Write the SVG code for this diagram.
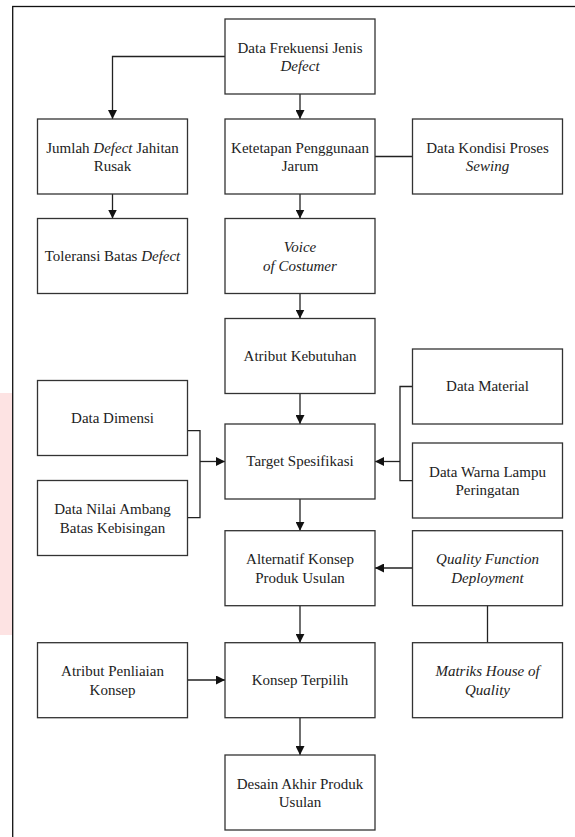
<svg xmlns="http://www.w3.org/2000/svg" width="575" height="837" viewBox="0 0 575 837">
<style>
.box{fill:#fff;stroke:#333;stroke-width:1.3}
.t{font-family:'Liberation Serif','DejaVu Serif',serif;font-size:15px;fill:#222;text-anchor:middle}
.i{font-style:italic}
.c{fill:none;stroke:#222;stroke-width:1.3}
</style>
<defs>
<marker id="a" markerUnits="userSpaceOnUse" markerWidth="9" markerHeight="9" refX="9" refY="4.5" orient="auto">
<path d="M0,0 L9,4.5 L0,9 z" fill="#111"/>
</marker>
</defs>
<rect x="0" y="393" width="12" height="242" fill="#fde3e3"/>
<rect x="12.7" y="6.5" width="620" height="900" fill="none" stroke="#111" stroke-width="1.3"/>

<g id="connectors">
<path class="c" d="M225,56.5 H112.5 V119" marker-end="url(#a)"/>
<path class="c" d="M300,94 V119" marker-end="url(#a)"/>
<path class="c" d="M375,156.5 H412.5"/>
<path class="c" d="M112.5,194 V218.5" marker-end="url(#a)"/>
<path class="c" d="M300,194 V218.5" marker-end="url(#a)"/>
<path class="c" d="M300,293.5 V318.5" marker-end="url(#a)"/>
<path class="c" d="M300,393 V424" marker-end="url(#a)"/>
<path class="c" d="M187.5,430.7 H200 V517.7 H187.5"/>
<path class="c" d="M200,461.5 H225" marker-end="url(#a)"/>
<path class="c" d="M412.5,386.5 H400 V480.7 H412.5"/>
<path class="c" d="M400,461.5 H375" marker-end="url(#a)"/>
<path class="c" d="M300,499 V530.7" marker-end="url(#a)"/>
<path class="c" d="M412.5,568 H375" marker-end="url(#a)"/>
<path class="c" d="M487.5,605.7 V642.7"/>
<path class="c" d="M300,605.7 V642.7" marker-end="url(#a)"/>
<path class="c" d="M187.5,680 H225" marker-end="url(#a)"/>
<path class="c" d="M300,717.7 V755" marker-end="url(#a)"/>
</g>

<g id="n-frekuensi"><rect class="box" x="225" y="19" width="150" height="75"/>
<text class="t" x="300" y="52.5">Data Frekuensi Jenis</text><text class="t i" x="300" y="71">Defect</text></g>

<g id="n-jumlah"><rect class="box" x="37.5" y="119" width="150" height="75"/>
<text class="t" x="112.5" y="152.5">Jumlah <tspan class="i">Defect</tspan> Jahitan</text><text class="t" x="112.5" y="171">Rusak</text></g>

<g id="n-ketetapan"><rect class="box" x="225" y="119" width="150" height="75"/>
<text class="t" x="300" y="152.5">Ketetapan Penggunaan</text><text class="t" x="300" y="171">Jarum</text></g>

<g id="n-kondisi"><rect class="box" x="412.5" y="119" width="150" height="75"/>
<text class="t" x="487.5" y="152.5">Data Kondisi Proses</text><text class="t i" x="487.5" y="171">Sewing</text></g>

<g id="n-toleransi"><rect class="box" x="37.5" y="218.5" width="150" height="75"/>
<text class="t" x="112.5" y="261">Toleransi Batas <tspan class="i">Defect</tspan></text></g>

<g id="n-voice"><rect class="box" x="225" y="218.5" width="150" height="75"/>
<text class="t i" x="300" y="251.5">Voice</text><text class="t i" x="300" y="270.5">of Costumer</text></g>

<g id="n-atribut-kebutuhan"><rect class="box" x="225" y="318.5" width="150" height="75"/>
<text class="t" x="300" y="361">Atribut Kebutuhan</text></g>

<g id="n-material"><rect class="box" x="412.5" y="349" width="150" height="75"/>
<text class="t" x="487.5" y="391">Data Material</text></g>

<g id="n-dimensi"><rect class="box" x="37.5" y="380.5" width="150" height="75"/>
<text class="t" x="112.5" y="422.5">Data Dimensi</text></g>

<g id="n-target"><rect class="box" x="225" y="424" width="150" height="75"/>
<text class="t" x="300" y="466">Target Spesifikasi</text></g>

<g id="n-warna"><rect class="box" x="412.5" y="443" width="150" height="75"/>
<text class="t" x="487.5" y="476.5">Data Warna Lampu</text><text class="t" x="487.5" y="495">Peringatan</text></g>

<g id="n-nilai"><rect class="box" x="37.5" y="480.5" width="150" height="75"/>
<text class="t" x="112.5" y="514">Data Nilai Ambang</text><text class="t" x="112.5" y="532.5">Batas Kebisingan</text></g>

<g id="n-alternatif"><rect class="box" x="225" y="530.7" width="150" height="75"/>
<text class="t" x="300" y="564">Alternatif Konsep</text><text class="t" x="300" y="582.5">Produk Usulan</text></g>

<g id="n-qfd"><rect class="box" x="412.5" y="530.7" width="150" height="75"/>
<text class="t i" x="487.5" y="564">Quality Function</text><text class="t i" x="487.5" y="582.5">Deployment</text></g>

<g id="n-penilaian"><rect class="box" x="37.5" y="642.7" width="150" height="75"/>
<text class="t" x="112.5" y="676">Atribut Penliaian</text><text class="t" x="112.5" y="694.5">Konsep</text></g>

<g id="n-konsep"><rect class="box" x="225" y="642.7" width="150" height="75"/>
<text class="t" x="300" y="685">Konsep Terpilih</text></g>

<g id="n-matriks"><rect class="box" x="412.5" y="642.7" width="150" height="75"/>
<text class="t i" x="487.5" y="676">Matriks House of</text><text class="t i" x="487.5" y="694.5">Quality</text></g>

<g id="n-desain"><rect class="box" x="225" y="755" width="150" height="75"/>
<text class="t" x="300" y="788.5">Desain Akhir Produk</text><text class="t" x="300" y="807">Usulan</text></g>
</svg>
